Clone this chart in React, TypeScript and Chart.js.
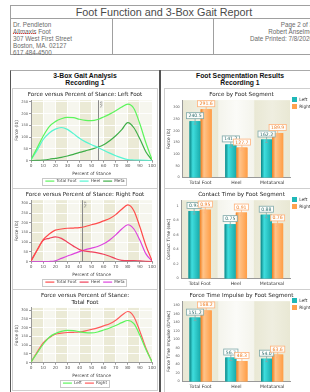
import React, { useEffect, useRef } from "react";
import { Chart, registerables } from "chart.js";
Chart.register(...registerables);

const CF = "'DejaVu Sans', sans-serif";
const HF = "'Liberation Sans', Arial, sans-serif";

// ---- data ----
const stancePct = [0, 5, 10, 15, 20, 25, 30, 35, 40, 45, 50, 55, 60, 65, 70, 75, 80, 85, 90, 95, 100];
const leftTotal = [5, 55, 105, 145, 166, 178, 184, 183, 176, 171, 170, 175, 186, 198, 212, 228, 240.5, 222, 156, 75, 5];
const leftHeel = [5, 45, 90, 118, 134, 141, 133, 115, 95, 80, 68, 57, 44, 32, 21, 12, 5, 3, 2, 1, 0];
const leftMeta = [0, 1, 3, 6, 10, 14, 20, 27, 35, 42, 49, 57, 68, 85, 106, 132, 162, 140, 92, 37, 3];
const rightTotal = [5, 60, 113, 142, 162, 168, 172, 173, 175, 181, 190, 198, 210, 222, 242, 270, 291.6, 262, 178, 82, 5];
const rightHeel = [5, 60, 110, 120, 127.7, 120, 100, 80, 62, 54, 50, 45, 38, 28, 15, 7, 5, 6, 4, 2, 0];
const rightMeta = [0, 0, 0, 1, 5, 17, 29, 40, 52, 62, 70, 78, 92, 112, 138, 168, 189.9, 168, 110, 40, 3];
const leftMarkerPct = 55;
const rightMarkerPct = 42;

const segments = ["Total Foot", "Heel", "Metatarsal"];
const forceLeft = [240.5, 141.2, 162.2];
const forceRight = [291.6, 127.7, 189.9];
const contactLeft = [0.93, 0.75, 0.88];
const contactRight = [0.95, 0.91, 0.76];
const impulseLeft = [151.2, 56.7, 54.0];
const impulseRight = [168.2, 48.3, 63.6];

const range = (a: number, b: number, s: number) => {
  const r: number[] = [];
  for (let v = a; v <= b + 1e-9; v += s) r.push(+v.toFixed(4));
  return r;
};

// ---- plugins ----
function bandsPlugin(kind: "line" | "bar") {
  return {
    id: "bands",
    beforeDraw(chart: any) {
      const { ctx, chartArea: a, scales } = chart;
      ctx.save();
      ctx.fillStyle = "#f6f6ee";
      ctx.fillRect(a.left, a.top, a.right - a.left, a.bottom - a.top);
      if (kind === "line") {
        const x = scales.x;
        for (let i = 0; i < 10; i++) {
          if (i % 2 === 0) {
            const l = x.getPixelForValue(i * 10);
            const r = x.getPixelForValue(i * 10 + 10);
            ctx.fillStyle = "#ebead6";
            ctx.fillRect(l, a.top, r - l, a.bottom - a.top);
          }
        }
      } else {
        const x = scales.x;
        const n = chart.data.labels.length;
        const w = (a.right - a.left) / n;
        for (let i = 0; i < n; i++) {
          const c = x.getPixelForValue(i);
          const g = ctx.createLinearGradient(c - w / 2, 0, c + w / 2, 0);
          if (i % 2 === 0) {
            g.addColorStop(0, "#e9e8d4");
            g.addColorStop(0.5, "#efeee0");
            g.addColorStop(1, "#e9e8d4");
          } else {
            g.addColorStop(0, "#f4f4ec");
            g.addColorStop(0.5, "#fbfbf8");
            g.addColorStop(1, "#f4f4ec");
          }
          ctx.fillStyle = g;
          ctx.fillRect(c - w / 2, a.top, w, a.bottom - a.top);
        }
      }
      ctx.restore();
    },
  };
}

function markerPlugin(pct: number) {
  return {
    id: "marker",
    beforeDatasetsDraw(chart: any) {
      const { ctx, chartArea: a, scales } = chart;
      const x = scales.x.getPixelForValue(pct);
      ctx.save();
      ctx.strokeStyle = "#8a8a8a";
      ctx.lineWidth = 1;
      ctx.beginPath();
      ctx.moveTo(Math.round(x) + 0.5, a.top);
      ctx.lineTo(Math.round(x) + 0.5, a.bottom);
      ctx.stroke();
      ctx.translate(x + 1.5, a.top + 1);
      ctx.rotate(Math.PI / 2);
      ctx.fillStyle = "#666";
      ctx.font = `3px ${CF}`;
      ctx.textBaseline = "bottom";
      ctx.fillText(pct + "%", 0, 0);
      ctx.restore();
    },
  };
}

const legendBoxPlugin = {
  id: "legendBox",
  afterDraw(chart: any) {
    const lg = chart.legend;
    if (!lg || !lg.legendHitBoxes || !lg.legendHitBoxes.length) return;
    const hb = lg.legendHitBoxes;
    let l = Infinity, r = -Infinity, t = Infinity, b = -Infinity;
    hb.forEach((h: any) => {
      l = Math.min(l, h.left);
      r = Math.max(r, h.left + h.width);
      t = Math.min(t, h.top);
      b = Math.max(b, h.top + h.height);
    });
    const ctx = chart.ctx;
    ctx.save();
    ctx.strokeStyle = "#c8c8c8";
    ctx.lineWidth = 1;
    ctx.strokeRect(Math.round(l - 3) + 0.5, Math.round(t - 1.5) + 0.5, Math.round(r - l + 5), Math.round(b - t + 3));
    ctx.restore();
  },
};

function barDecorPlugin(decimals: number) {
  return {
    id: "barDecor",
    afterDatasetsDraw(chart: any) {
      const ctx = chart.ctx;
      ctx.save();
      chart.data.datasets.forEach((ds: any, di: number) => {
        const meta = chart.getDatasetMeta(di);
        const stops = ds.gradStops as string[];
        meta.data.forEach((el: any) => {
          const l = el.x - el.width / 2;
          const g = ctx.createLinearGradient(l, 0, l + el.width, 0);
          g.addColorStop(0, stops[0]);
          g.addColorStop(0.3, stops[1]);
          g.addColorStop(1, stops[2]);
          ctx.fillStyle = g;
          ctx.fillRect(l, el.y, el.width, el.base - el.y);
        });
      });
      chart.data.datasets.forEach((ds: any, di: number) => {
        const meta = chart.getDatasetMeta(di);
        meta.data.forEach((el: any, i: number) => {
          const v = ds.data[i] as number;
          const text = v.toFixed(decimals);
          ctx.font = `4.6px ${CF}`;
          const tw = ctx.measureText(text).width;
          const bw = Math.max(tw + 4, el.width + 2);
          const bh = 6;
          const top = el.y - 2.5 - bh;
          ctx.strokeStyle = ds.labelBorder;
          ctx.lineWidth = 0.8;
          ctx.beginPath();
          ctx.moveTo(el.x, el.y + 3);
          ctx.lineTo(el.x, top + bh);
          ctx.moveTo(el.x - 1.5, el.y + 3);
          ctx.lineTo(el.x + 1.5, el.y + 3);
          ctx.stroke();
          ctx.fillStyle = "rgba(255,255,255,0.9)";
          ctx.fillRect(el.x - bw / 2, top, bw, bh);
          ctx.strokeRect(el.x - bw / 2, top, bw, bh);
          ctx.fillStyle = ds.labelText;
          ctx.textAlign = "center";
          ctx.textBaseline = "middle";
          ctx.fillText(text, el.x, top + bh / 2 + 0.3);
        });
      });
      ctx.restore();
    },
  };
}

// ---- config builders ----
type Series = { label: string; data: number[]; color: string };

function lineConfig(title: string | string[], series: Series[], yMax: number, tickMax: number, marker?: number): any {
  const plugins: any[] = [bandsPlugin("line"), legendBoxPlugin];
  if (marker !== undefined) plugins.push(markerPlugin(marker));
  return {
    type: "line",
    data: {
      datasets: series.map((s) => ({
        label: s.label,
        data: stancePct.map((x, i) => ({ x, y: s.data[i] })),
        borderColor: s.color,
        backgroundColor: s.color,
        borderWidth: 1.2,
        pointRadius: 0,
        cubicInterpolationMode: "monotone",
        fill: false,
      })),
    },
    options: {
      animation: false,
      responsive: false,
      maintainAspectRatio: false,
      layout: { padding: { left: 1, right: 1, top: 0, bottom: 1 } },
      plugins: {
        title: { display: true, text: title, font: { size: 5.6, family: CF, weight: "normal" }, color: "#222", padding: { top: 2, bottom: 2.5 } },
        legend: {
          position: "bottom",
          maxHeight: 11,
          labels: {
            usePointStyle: true,
            pointStyle: "line",
            pointStyleWidth: 9,
            boxHeight: 3,
            padding: 3,
            font: { size: 4.2, family: CF },
            color: "#444",
          },
        },
        tooltip: { enabled: false },
      },
      scales: {
        x: {
          type: "linear",
          min: 0,
          max: 100,
          ticks: { stepSize: 10, font: { size: 4.2, family: CF }, color: "#555", padding: 1, maxRotation: 0 },
          title: { display: true, text: "Percent of Stance", font: { size: 4.4, family: CF }, color: "#444", padding: { top: 1, bottom: 0 } },
          grid: { color: "rgba(255,255,255,0.9)", tickLength: 2, tickColor: "#999" },
          border: { color: "#999" },
        },
        y: {
          min: 0,
          max: yMax,
          afterBuildTicks: (s: any) => {
            s.ticks = range(0, tickMax, 50).map((v) => ({ value: v }));
          },
          ticks: { font: { size: 3.6, family: CF }, color: "#555", padding: 1 },
          title: { display: true, text: "Force (lb)", font: { size: 4.4, family: CF }, color: "#444", padding: { top: 0, bottom: 1 } },
          grid: { color: "rgba(255,255,255,0.9)", tickLength: 2, tickColor: "#999" },
          border: { color: "#999" },
        },
      },
    },
    plugins,
  };
}

const TEAL = ["#0b8585", "#3fdede", "#18aaaa"];
const ORANGE = ["#f07d1e", "#ffc48a", "#ff9d45"];

function barConfig(title: string, yTitle: string, left: number[], right: number[], yMax: number, step: number, tickMax: number, decimals: number, tickDec: number): any {
  return {
    type: "bar",
    data: {
      labels: segments,
      datasets: [
        { label: "Left", data: left, backgroundColor: "#1fb8b8", gradStops: TEAL, labelBorder: "#7fa9a9", labelText: "#2f6f6f" },
        { label: "Right", data: right, backgroundColor: "#ffa24f", gradStops: ORANGE, labelBorder: "#ffb27a", labelText: "#f07a20" },
      ],
    },
    options: {
      animation: false,
      responsive: false,
      maintainAspectRatio: false,
      layout: { padding: { left: 1, right: 0, top: 0, bottom: 1 } },
      datasets: { bar: { categoryPercentage: 0.62, barPercentage: 1.0 } },
      plugins: {
        title: { display: true, text: title, font: { size: 5.6, family: CF, weight: "normal" }, color: "#222", padding: { top: 2, bottom: 2.5 } },
        legend: {
          position: "right",
          align: "start",
          maxWidth: 27,
          title: { display: true, text: " ", padding: 0, font: { size: 5, family: CF } },
          labels: { boxWidth: 5, boxHeight: 5, padding: 2, font: { size: 4.4, family: CF }, color: "#333" },
        },
        tooltip: { enabled: false },
      },
      scales: {
        x: {
          ticks: { font: { size: 4.6, family: CF }, color: "#333", padding: 1 },
          grid: { display: false, tickLength: 2 },
          border: { color: "#999" },
        },
        y: {
          min: 0,
          max: yMax,
          afterBuildTicks: (s: any) => {
            s.ticks = range(0, tickMax, step).map((v) => ({ value: v }));
          },
          ticks: {
            font: { size: 3.4, family: CF },
            color: "#555",
            padding: 1,
            callback: (v: any) => (tickDec ? (Number(v) === 1 ? "1" : Number(v) === 0 ? "0" : Number(v).toFixed(tickDec)) : String(v)),
          },
          title: { display: true, text: yTitle, font: { size: 4.4, family: CF }, color: "#333", padding: { top: 0, bottom: 1 } },
          grid: { display: false, tickLength: 2, tickColor: "#999" },
          border: { color: "#999" },
        },
      },
    },
    plugins: [bandsPlugin("bar"), barDecorPlugin(decimals)],
  };
}

function ChartBox({ make, left, top, width, height, canvasW }: { make: () => any; left: number; top: number; width: number; height: number; canvasW?: number }) {
  const ref = useRef<HTMLCanvasElement>(null);
  useEffect(() => {
    const chart = new Chart(ref.current as HTMLCanvasElement, make());
    return () => chart.destroy();
  }, []);
  const cw = canvasW ?? width - 2;
  return (
    <div style={{ position: "absolute", left, top, width, height, border: "1px solid #cfcfcf", boxSizing: "border-box", background: "#fff" }}>
      <canvas ref={ref} width={cw} height={height - 2} style={{ display: "block", width: cw, height: height - 2 }} />
    </div>
  );
}

const abs = (l: number, t: number, extra: React.CSSProperties = {}): React.CSSProperties => ({ position: "absolute", left: l, top: t, ...extra });

export default function App() {
  useEffect(() => {
    document.body.style.margin = "0";
  }, []);
  const small: React.CSSProperties = { fontSize: 6.3, lineHeight: "7px", color: "#6a6a6a", fontFamily: HF, whiteSpace: "nowrap" };
  return (
    <div style={{ position: "relative", width: 310, height: 392, overflow: "hidden", background: "#fff", fontFamily: HF }}>
      {/* header */}
      <div style={abs(10, 5, { width: 308, height: 50, border: "1px solid #a0a0a0", boxSizing: "border-box" })} />
      <div style={abs(10, 18, { width: 308, height: 1, background: "#a0a0a0" })} />
      <div style={abs(112, 18, { width: 1, height: 37, background: "#a0a0a0" })} />
      <div style={abs(213, 18, { width: 1, height: 37, background: "#a0a0a0" })} />
      <div style={abs(10, 5, { width: 308, height: 13, textAlign: "center", fontSize: 10.8, lineHeight: "14px", color: "#4a4a4a" })}>
        Foot Function and 3-Box Gait Report
      </div>
      <div style={abs(13, 20.5, small)}>
        <div>Dr. Pendleton</div>
        <div>Allmaxis Foot</div>
        <div>307 West First Street</div>
        <div>Boston, MA. 02127</div>
        <div>617 484-4500</div>
      </div>
      <div style={abs(13, 33, { width: 23, height: 0, borderBottom: "1px dotted #e03a3a" })} />
      <div style={abs(196, 20.5, { ...small, width: 117, textAlign: "right" })}>
        <div>Page 2 of 3</div>
        <div>Robert Anselmo</div>
        <div>Date Printed: 7/8/2020</div>
      </div>

      {/* columns */}
      <div style={abs(10, 70, { width: 150, height: 330, borderLeft: "1px solid #555", borderTop: "1px solid #aaa", boxSizing: "border-box" })} />
      <div style={abs(159, 70, { width: 2, height: 330, background: "#555" })} />
      <div style={abs(161, 70, { width: 160, height: 1, background: "#aaa" })} />
      <div style={abs(10, 71.5, { width: 150, textAlign: "center", fontWeight: "bold", fontSize: 6.8, lineHeight: "7.5px", color: "#111" })}>
        <div>3-Box Gait Analysis</div>
        <div>Recording 1</div>
      </div>
      <div style={abs(161, 71.5, { width: 158, textAlign: "center", fontWeight: "bold", fontSize: 6.8, lineHeight: "7.5px", color: "#111" })}>
        <div>Foot Segmentation Results</div>
        <div>Recording 1</div>
      </div>

      {/* left charts */}
      <ChartBox
        left={12}
        top={88}
        width={146}
        height={101}
        make={() =>
          lineConfig(
            "Force versus Percent of Stance: Left Foot",
            [
              { label: "Total Foot", data: leftTotal, color: "#5cf55c" },
              { label: "Heel", data: leftHeel, color: "#55f5d2" },
              { label: "Meta", data: leftMeta, color: "#3fae48" },
            ],
            257,
            250,
            leftMarkerPct
          )
        }
      />
      <ChartBox
        left={12}
        top={188}
        width={146}
        height={102}
        make={() =>
          lineConfig(
            "Force versus Percent of Stance: Right Foot",
            [
              { label: "Total Foot", data: rightTotal, color: "#ff4b4b" },
              { label: "Heel", data: rightHeel, color: "#f0405a" },
              { label: "Meta", data: rightMeta, color: "#dd44dd" },
            ],
            316,
            300,
            rightMarkerPct
          )
        }
      />
      <ChartBox
        left={12}
        top={289}
        width={146}
        height={102}
        make={() =>
          lineConfig(
            ["Force versus Percent of Stance:", "Total Foot"],
            [
              { label: "Left", data: leftTotal, color: "#5cf55c" },
              { label: "Right", data: rightTotal, color: "#ff5a5a" },
            ],
            312,
            300
          )
        }
      />

      {/* right charts */}
      <ChartBox left={164} top={88} width={160} height={101} canvasW={152} make={() => barConfig("Force by Foot Segment", "Force (lb)", forceLeft, forceRight, 330, 50, 300, 1, 0)} />
      <ChartBox left={164} top={188} width={160} height={102} canvasW={152} make={() => barConfig("Contact Time by Foot Segment", "Contact Time (sec)", contactLeft, contactRight, 1.08, 0.2, 1, 2, 1)} />
      <ChartBox left={164} top={289} width={160} height={104} canvasW={152} make={() => barConfig("Force Time Impulse by Foot Segment", "Force Time Impulse (lb*sec)", impulseLeft, impulseRight, 190, 20, 180, 1, 0)} />
    </div>
  );
}
